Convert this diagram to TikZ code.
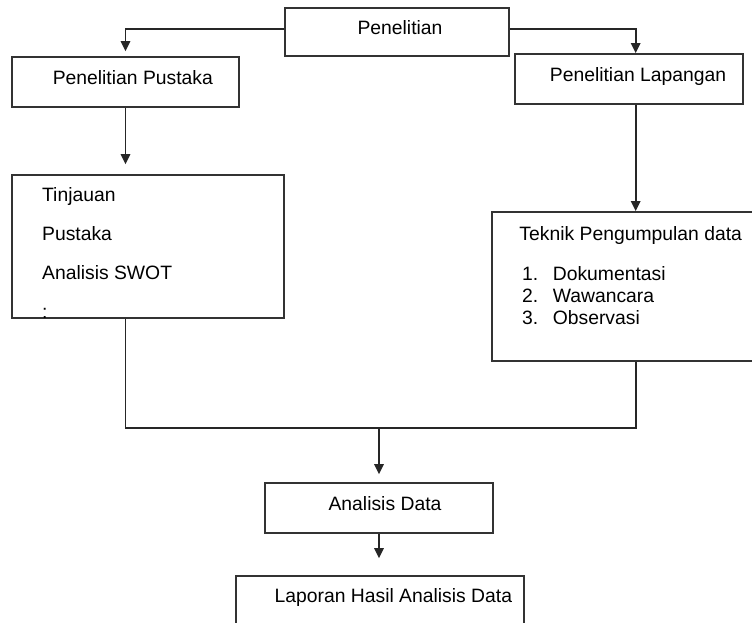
\documentclass[tikz,border=0pt]{standalone}
\usepackage{fontspec}
\setmainfont{Liberation Sans}
\usetikzlibrary{arrows.meta,positioning}

\begin{document}
\begin{tikzpicture}[
        x=0.75pt, y=-0.75pt,
        font=\fontsize{14.5}{16.5}\selectfont,
        every node/.style={text centered},
        box/.style={draw=black!80, line width=1.2pt, inner sep=0pt, text height=11pt, text depth=8pt},
        list/.style={align=left, inner sep=0pt},
        link/.style={draw=black!85, line width=1.4pt},
        arrow/.style={link, -{Triangle[length=7.5pt,width=7pt]}},
    ]
    \useasboundingbox (0,0) rectangle (752,622);
    \node[box, minimum width=168pt, minimum height=36pt] (pen) at (397,32) {\hspace*{4.5pt}Penelitian};
    \node[box, minimum width=170pt, minimum height=37.5pt] (pus) at (125.5,82) {\hspace*{11pt}Penelitian Pustaka};
    \node[box, minimum width=171pt, minimum height=37.5pt] (lap) at (629,79) {\hspace*{13.5pt}Penelitian Lapangan};
    \node[box, minimum width=204pt, minimum height=107.25pt] (tin) at (148,246.5) {};
    \node[box, minimum width=198pt, minimum height=111.75pt] (tek) at (624,286.5) {};
    \node[box, minimum width=171pt, minimum height=37.5pt] (ana) at (379,508) {\hspace*{9pt}Analisis Data};
    \node[box, minimum width=216pt, minimum height=60pt, text depth=32pt] (rep) at (380,616) {\hspace*{20pt}Laporan Hasil Analisis Data};
    % isi kotak
    \node[list, below right=10pt and 23pt of tin.north west] (tintxt)
        {Tinjauan\\[12.75pt]Pustaka\\[12.75pt]Analisis SWOT\\[12.75pt]:};
    \node[list, below right=11pt and 21pt of tek.north west] (tektxt)
        {Teknik Pengumpulan data\\[13.5pt]
         \hspace*{2pt}\makebox[23pt][l]{1.}Dokumentasi\\
         \hspace*{2pt}\makebox[23pt][l]{2.}Wawancara\\
         \hspace*{2pt}\makebox[23pt][l]{3.}Observasi};
    % panah
    \draw[arrow, shorten >=3.75pt] ([yshift=2.25pt]pen.west) -| (pus.north);
    \draw[arrow] ([yshift=2.25pt]pen.east) -| ([xshift=5pt]lap.north);
    \draw[arrow, shorten >=7.5pt] (pus.south) -- (pus.south |- tin.north);
    \draw[arrow] ([xshift=5pt]lap.south) -- ([xshift=5pt]lap.south |- tek.north);
    \coordinate (mrg) at (379,428);
    \draw[link] (pus.south |- tin.south) |- (mrg) -| ([xshift=5pt]lap.south |- tek.south);
    \draw[arrow, shorten >=6pt] (mrg) -- (mrg |- ana.north);
    \draw[arrow, shorten >=12.75pt] (ana.south) -- (ana.south |- rep.north);
\end{tikzpicture}
\end{document}
